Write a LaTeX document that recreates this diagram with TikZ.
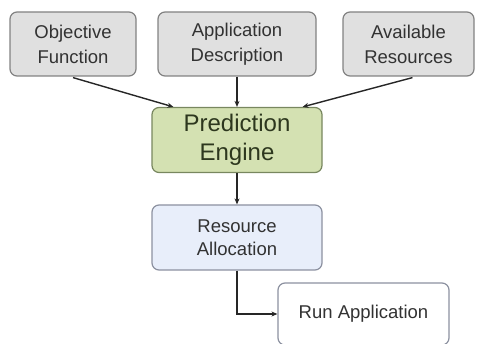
\documentclass[tikz,border=0pt]{standalone}
\usepackage{fontspec}
\setmainfont{Liberation Sans}
\usetikzlibrary{arrows.meta,calc}
\definecolor{grayfill}{RGB}{224,224,224}
\definecolor{grayline}{RGB}{130,130,130}
\definecolor{greenfill}{RGB}{212,225,178}
\definecolor{greenline}{RGB}{120,135,95}
\definecolor{bluefill}{RGB}{232,238,250}
\definecolor{blueline}{RGB}{140,145,160}
\definecolor{txt}{RGB}{50,50,50}
\tikzset{
  box/.style={draw, rounded corners=7pt, line width=1.2pt, align=center, text=txt,
    font=\fontsize{18.5}{23}\selectfont, inner sep=0pt},
  graybox/.style={box, fill=grayfill, draw=grayline, font=\fontsize{18.5}{25}\selectfont},
  arr/.style={-{Stealth[length=6pt,width=5pt]}, line width=1.4pt, draw=black!85}
}
\begin{document}
\begin{tikzpicture}[x=1pt,y=-1pt]
\useasboundingbox (0,0) rectangle (478,344);
\node[graybox, minimum width=126pt, minimum height=64pt] (obj) at (73,44) {Objective\\Function};
\node[graybox, minimum width=158pt, minimum height=64pt] (app) at (237,44) {Application\\Description};
\node[graybox, minimum width=131pt, minimum height=64pt] (res) at (408.5,44) {Available\\Resources};
\node[box, fill=greenfill, draw=greenline, minimum width=170pt, minimum height=65pt,
  font=\fontsize{24}{29}\selectfont, text={rgb,255:red,45;green,55;blue,30}] (pred) at (237,140) {Prediction\\Engine};
\node[box, fill=bluefill, draw=blueline, minimum width=170pt, minimum height=65pt] (alloc) at (237,237.5) {Resource\\Allocation};
\node[box, fill=white, draw=blueline, minimum width=171pt, minimum height=62pt] (run) at (363.5,314) {Run Application};
\coordinate (po) at ($(pred.north west)+(22,0)$);
\coordinate (pr) at ($(pred.north east)+(-20,0)$);
\coordinate (os) at ($(obj.south)+(0,1)$);
\coordinate (rs) at ($(res.south)+(4,1)$);
\draw[arr] (os) -- (po);
\draw[arr] (app.south) -- (pred.north);
\draw[arr] (rs) -- (pr);
\draw[arr] (pred.south) -- (alloc.north);
\draw[arr] (alloc.south) |- (run.west);
\end{tikzpicture}
\end{document}
